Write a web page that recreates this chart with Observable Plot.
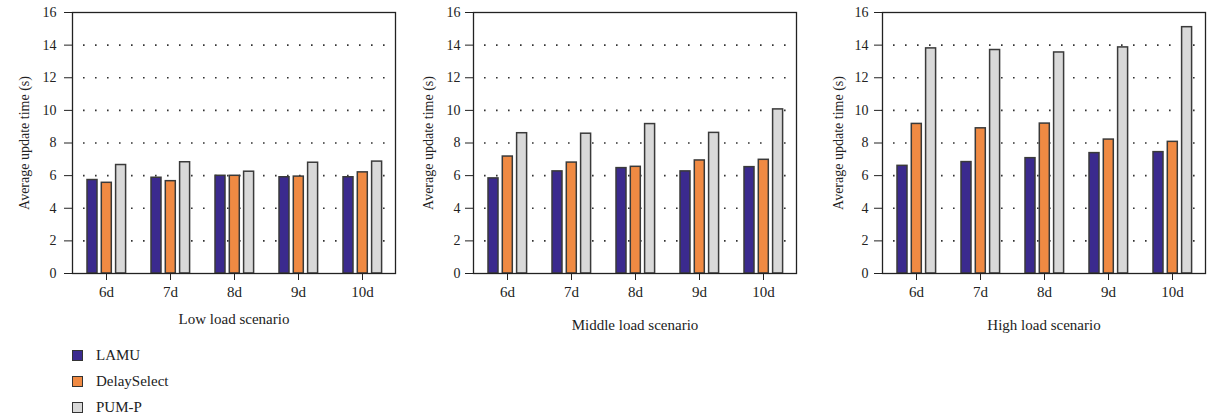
<!DOCTYPE html>
<html>
<head>
<meta charset="utf-8">
<script src="https://cdn.jsdelivr.net/npm/d3@7"></script>
<script src="https://cdn.jsdelivr.net/npm/@observablehq/plot@0.6"></script>
<style>
  html, body { margin: 0; padding: 0; background: #fff; }
  #root { position: relative; width: 1213px; height: 419px; overflow: hidden; background: #fff; font-family: "Liberation Serif", "DejaVu Serif", serif; }
  .panel { position: absolute; top: 0; }
  .legend { position: absolute; left: 72px; top: 342px; font-size: 15px; color: #222; }
  .legend .item { position: relative; height: 26px; line-height: 26px; }
  .legend .sw { position: absolute; left: 0; top: 8px; width: 9px; height: 9px; border: 1.4px solid #333; }
  .legend .lab { position: absolute; left: 24px; top: 0; white-space: nowrap; }
</style>
</head>
<body>
<div id="root"></div>
<script>
const categories = ["6d", "7d", "8d", "9d", "10d"];
const seriesNames = ["LAMU", "DelaySelect", "PUM-P"];
const seriesColors = ["#3b2a8e", "#f08a43", "#d9d9d9"];
const scenarioTitles = ["Low load scenario", "Middle load scenario", "High load scenario"];

// Low load
const lowLAMU = [5.73, 5.87, 5.99, 5.90, 5.90];
const lowDelaySelect = [5.56, 5.66, 5.99, 5.94, 6.20];
const lowPUMP = [6.65, 6.82, 6.24, 6.79, 6.86];
// Middle load
const midLAMU = [5.83, 6.26, 6.46, 6.26, 6.52];
const midDelaySelect = [7.17, 6.80, 6.54, 6.93, 6.97];
const midPUMP = [8.60, 8.57, 9.16, 8.62, 10.06];
// High load
const highLAMU = [6.60, 6.83, 7.07, 7.38, 7.44];
const highDelaySelect = [9.17, 8.90, 9.19, 8.21, 8.07];
const highPUMP = [13.80, 13.70, 13.55, 13.86, 15.10];

const scenarios = [
  [lowLAMU, lowDelaySelect, lowPUMP],
  [midLAMU, midDelaySelect, midPUMP],
  [highLAMU, highDelaySelect, highPUMP]
];

const frameLefts = [72, 473, 882];
const labelOffsetsX = [50, 56, 56];
const labelOffsetsY = [53, 50, 49];
const tickPads = [8, 5, 6];

const innerW = 323;
const band = innerW / 5;
const barW = 10.6;
const insL = [13, 27.3, 41.6];

const root = document.getElementById("root");

scenarios.forEach((vals, k) => {
  const rows = [];
  seriesNames.forEach((s, j) => {
    categories.forEach((c, i) => rows.push({cat: c, series: s, value: vals[j][i]}));
  });
  const mL = 60, mR = 10;
  const chart = Plot.plot({
    width: mL + innerW + mR,
    height: 333,
    marginLeft: mL,
    marginRight: mR,
    marginTop: 12,
    marginBottom: 60,
    style: {fontFamily: "Liberation Serif, DejaVu Serif, serif", fontSize: "14px", color: "#222", background: "transparent", overflow: "visible"},
    x: {domain: categories, padding: 0, axis: null},
    y: {domain: [0, 16], axis: null},
    marks: [
      Plot.ruleY(d3.range(2, 16, 2), {stroke: "#333", strokeWidth: 1.6, strokeDasharray: "1.6 10.4", strokeDashoffset: 1}),
      ...seriesNames.map((s, j) => Plot.barY(rows.filter(r => r.series === s), {
        x: "cat", y: "value", fill: seriesColors[j], stroke: "#3a3a3a", strokeWidth: 1.5,
        insetLeft: insL[j], insetRight: band - insL[j] - barW
      })),
      Plot.frame({stroke: "#222", strokeWidth: 1.3}),
      Plot.axisY({ticks: d3.range(0, 17, 2), tickSize: 8, tickPadding: tickPads[k], tickFormat: d3.format("d"),
        label: "Average update time (s)", labelAnchor: "center", labelArrow: "none", labelOffset: labelOffsetsY[k]}),
      Plot.axisX({tickSize: 7, tickPadding: 6, fontSize: 15, label: scenarioTitles[k], labelAnchor: "center", labelArrow: "none", labelOffset: labelOffsetsX[k]})
    ]
  });
  chart.classList.add("panel");
  chart.style.left = (frameLefts[k] - mL) + "px";
  root.appendChild(chart);
});

const legend = document.createElement("div");
legend.className = "legend";
seriesNames.forEach((s, j) => {
  const item = document.createElement("div");
  item.className = "item";
  const sw = document.createElement("div");
  sw.className = "sw";
  sw.style.background = seriesColors[j];
  const lab = document.createElement("div");
  lab.className = "lab";
  lab.textContent = s;
  item.appendChild(sw);
  item.appendChild(lab);
  legend.appendChild(item);
});
root.appendChild(legend);
</script>
</body>
</html>
